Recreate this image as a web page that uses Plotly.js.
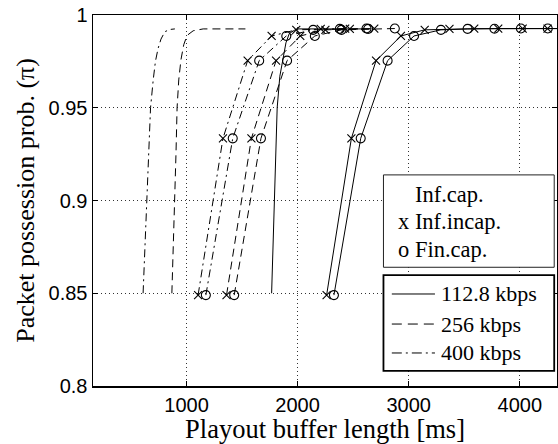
<!DOCTYPE html>
<html>
<head>
<meta charset="utf-8">
<script src="https://cdn.plot.ly/plotly-3.0.1.min.js"></script>
<style>html,body{margin:0;padding:0;background:#fff;}#chart{width:558px;height:444px;}</style>
</head>
<body>
<div id="chart"></div>
<script>
// ---- Data ----
const rates = ['112.8 kbps', '256 kbps', '400 kbps'];
const modelLabels = ['Inf.cap.', 'x Inf.incap.', 'o Fin.cap.'];

// Inf.cap. (no markers)
const cap1128X = [1766, 1778, 1790, 1802, 1816, 1840, 1872, 1895, 1925, 1990, 2650];
const cap1128Y = [0.85, 0.875, 0.9, 0.925, 0.95, 0.967, 0.977, 0.985, 0.990, 0.9925, 0.9925];
const cap256X = [868, 882, 895, 905, 915, 930, 950, 975, 1005, 1060, 1150, 1530];
const cap256Y = [0.85, 0.875, 0.9, 0.925, 0.95, 0.965, 0.976, 0.984, 0.989, 0.9915, 0.9925, 0.9925];
const cap400X = [609, 627, 645, 660, 676, 700, 720, 744, 770, 805, 850, 895];
const cap400Y = [0.85, 0.875, 0.9, 0.925, 0.95, 0.965, 0.975, 0.982, 0.987, 0.991, 0.9922, 0.9925];

// Inf.incap. (x markers)
const inc1128X = [2261, 2484, 2706, 2930, 3144, 3367, 3590, 3806, 4026, 4250, 4470];
const inc1128Y = [0.849, 0.9335, 0.9754, 0.9887, 0.992, 0.9925, 0.9926, 0.9927, 0.9927, 0.9927, 0.9927];
const inc256X = [1360, 1584, 1806, 2024, 2250, 2470, 2690];
const inc256Y = [0.849, 0.9335, 0.9754, 0.9887, 0.992, 0.9925, 0.9927];
const inc400X = [1104, 1328, 1550, 1766, 1988, 2208, 2428];
const inc400Y = [0.849, 0.9335, 0.9754, 0.9887, 0.992, 0.9925, 0.9927];

// Fin.cap. (o markers)
const fin1128X = [2327, 2568, 2810, 3048, 3290, 3530, 3772, 4010, 4252, 4490];
const fin1128Y = [0.849, 0.9335, 0.9754, 0.9887, 0.992, 0.9925, 0.9926, 0.9927, 0.9927, 0.9927];
const fin256X = [1429, 1670, 1905, 2155, 2395, 2635, 2875];
const fin256Y = [0.849, 0.9335, 0.9754, 0.9887, 0.992, 0.9925, 0.9927];
const fin400X = [1174, 1416, 1654, 1898, 2140, 2380, 2620];
const fin400Y = [0.849, 0.9335, 0.9754, 0.9887, 0.992, 0.9925, 0.9927];

const xTicks = [1000, 2000, 3000, 4000];
const yTicks = [0.8, 0.85, 0.9, 0.95, 1];
const yTickText = ['0.8', '0.85', '0.9', '0.95', '1'];

// ---- Styles ----
const dashes = { '112.8 kbps': 'solid', '256 kbps': '8px,5px', '400 kbps': '8px,4px,2px,4px' };
const serif = 'Liberation Serif';
const sans = 'Liberation Sans';

function line(x, y, rate, sym) {
  const t = {
    x: x, y: y, type: 'scatter', name: rate, showlegend: false,
    mode: sym ? 'lines+markers' : 'lines',
    line: { color: '#000', width: 1, dash: dashes[rate] }
  };
  if (sym) {
    t.marker = sym === 'x'
      ? { symbol: 'x-thin-open', size: 8, color: '#000', line: { color: '#000', width: 1.1 } }
      : { symbol: 'circle-open', size: 9, color: '#000', line: { color: '#000', width: 1.1 } };
  }
  return t;
}

const traces = [
  line(cap400X, cap400Y, rates[2]),
  line(cap256X, cap256Y, rates[1]),
  line(cap1128X, cap1128Y, rates[0]),
  line(inc400X, inc400Y, rates[2], 'x'),
  line(fin400X, fin400Y, rates[2], 'o'),
  line(inc256X, inc256Y, rates[1], 'x'),
  line(fin256X, fin256Y, rates[1], 'o'),
  line(inc1128X, inc1128Y, rates[0], 'x'),
  line(fin1128X, fin1128Y, rates[0], 'o')
];

// legend boxes (paper coordinates)
const legendDash = { '112.8 kbps': 'solid', '256 kbps': '10px,6px', '400 kbps': '10px,4px,2px,4px' };
const shapes = [
  { type: 'rect', xref: 'paper', yref: 'paper', x0: 0.626, x1: 0.994, y0: 0.320, y1: 0.569,
    fillcolor: '#fff', line: { color: '#222', width: 1 }, layer: 'above' },
  { type: 'rect', xref: 'paper', yref: 'paper', x0: 0.626, x1: 0.994, y0: 0.041, y1: 0.299,
    fillcolor: '#fff', line: { color: '#000', width: 1.8 }, layer: 'above' }
];
const rateY = [0.248, 0.167, 0.089];
rates.forEach((r, i) => {
  shapes.push({ type: 'line', xref: 'paper', yref: 'paper', x0: 0.644, x1: 0.737, y0: rateY[i], y1: rateY[i],
    line: { color: '#000', width: 1, dash: legendDash[r] }, layer: 'above' });
});
const annotations = [];
const modelX = [0.690, 0.652, 0.652];
const modelY = [0.515, 0.443, 0.368];
modelLabels.forEach((m, i) => {
  annotations.push({ xref: 'paper', yref: 'paper', x: modelX[i], y: modelY[i], xanchor: 'left', yanchor: 'middle',
    text: m, showarrow: false, font: { family: serif, size: 22.5, color: '#000' } });
});
rates.forEach((r, i) => {
  annotations.push({ xref: 'paper', yref: 'paper', x: 0.745, y: rateY[i], xanchor: 'left', yanchor: 'middle',
    text: r, showarrow: false, font: { family: serif, size: 22, color: '#000' } });
});

const axisCommon = {
  showline: true, linecolor: '#000', linewidth: 1.5, mirror: 'ticks',
  ticks: 'inside', ticklen: 5, tickcolor: '#000', tickwidth: 1,
  showgrid: true, gridcolor: '#333', gridwidth: 1, griddash: '1px,3px',
  zeroline: false, tickfont: { family: sans, size: 20, color: '#000' }
};

const layout = {
  width: 558, height: 444,
  margin: { l: 93, r: 1, t: 15, b: 58 },
  paper_bgcolor: '#fff', plot_bgcolor: '#fff',
  showlegend: false,
  font: { family: serif },
  xaxis: Object.assign({}, axisCommon, {
    range: [158, 4335], tickmode: 'array', tickvals: xTicks, ticktext: xTicks.map(String),
    title: { text: 'Playout buffer length [ms]', font: { family: serif, size: 26.5, color: '#000' }, standoff: 2 }
  }),
  yaxis: Object.assign({}, axisCommon, {
    range: [0.8, 1], tickmode: 'array', tickvals: yTicks, ticktext: yTickText,
    title: { text: 'Packet possession prob. (\u03c0)', font: { family: serif, size: 26, color: '#000' }, standoff: 6 }
  }),
  shapes: shapes,
  annotations: annotations
};

Plotly.newPlot('chart', traces, layout, { staticPlot: true, displayModeBar: false });
</script>
</body>
</html>
